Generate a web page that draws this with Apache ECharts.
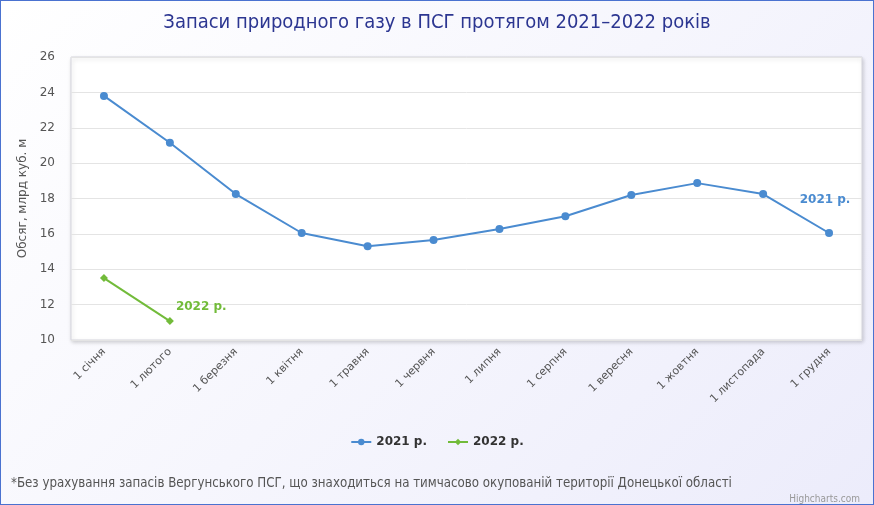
<!DOCTYPE html>
<html><head><meta charset="utf-8">
<script src="https://cdn.jsdelivr.net/npm/echarts@6/dist/echarts.min.js"></script>
<style>
html,body{margin:0;padding:0;}
#wrap{position:absolute;left:0;top:0;width:872px;height:503px;border:1px solid #4a72d0;background:linear-gradient(135deg,#ffffff 0%,#f6f6fd 50%,#ececfb 100%);}
#chart{width:872px;height:503px;}
</style></head><body>
<div id="wrap"><div id="chart"></div></div>
<script>
const categories = ['1 січня','1 лютого','1 березня','1 квітня','1 травня','1 червня','1 липня','1 серпня','1 вересня','1 жовтня','1 листопада','1 грудня'];
const values2021 = [23.8, 21.15, 18.25, 16.05, 15.3, 15.65, 16.27, 17.0, 18.2, 18.87, 18.25, 16.05];
const values2022 = [13.5, 11.07];
const yTicks = [10, 12, 14, 16, 18, 20, 22, 24, 26];

const chart = echarts.init(document.getElementById('chart'));
const blue = '#4a8bd0', green = '#72bb3a';
function withEndLabel(arr, labelCfg){
  return arr.map((v,i)=> i===arr.length-1 ? {value:v, label:labelCfg} : v);
}
chart.setOption({
  animation:false,
  title:[{text:'Запаси природного газу в ПСГ протягом 2021–2022 років',left:'center',top:7,
    textStyle:{fontFamily:'DejaVu Sans Condensed',fontSize:20,fontWeight:'normal',color:'#2c3691'}},
   {text:'*Без урахування запасів Вергунського ПСГ, що знаходиться на тимчасово окупованій території Донецької області',left:5,top:471,
    textStyle:{fontFamily:'DejaVu Sans Condensed',fontSize:13.2,fontWeight:'normal',color:'#555'}},
   {text:'Highcharts.com',right:8,top:488,textStyle:{fontFamily:'DejaVu Sans Condensed',fontSize:10,fontWeight:'normal',color:'#999'}}],
  grid:{left:70,right:11,top:56,bottom:164,show:true,backgroundColor:'#ffffff',borderColor:'#d5d5dd',borderWidth:1,
    shadowColor:'rgba(0,0,0,0.18)',shadowBlur:4,shadowOffsetX:1,shadowOffsetY:2},
  legend:{top:430,left:'center',itemGap:20,itemWidth:20,itemHeight:8,
    textStyle:{fontFamily:'DejaVu Sans',fontSize:12,fontWeight:'bold',color:'#333'},
    data:['2021 р.','2022 р.']},
  xAxis:{type:'category',data:categories,boundaryGap:true,
    axisLine:{show:false},axisTick:{show:false},
    axisLabel:{interval:0,rotate:45,margin:10,color:'#555',fontFamily:'DejaVu Sans',fontSize:11}},
  yAxis:{type:'value',min:yTicks[0],max:yTicks[yTicks.length-1],interval:2,
    name:'Обсяг, млрд куб. м',nameLocation:'middle',nameGap:41,nameRotate:90,
    nameTextStyle:{fontFamily:'DejaVu Sans',fontSize:12,color:'#555'},
    axisLabel:{color:'#555',fontFamily:'DejaVu Sans',fontSize:12,margin:16},
    splitLine:{lineStyle:{color:'#e4e4e4'}},axisLine:{show:false},axisTick:{show:false}},
  series:[
    {name:'2021 р.',type:'line',color:blue,symbol:'circle',symbolSize:8,lineStyle:{width:2},
     data:withEndLabel(values2021,{show:true,formatter:'2021 р.',position:'top',offset:[-4,-18],
       fontFamily:'DejaVu Sans',fontSize:12,fontWeight:'bold',color:blue})},
    {name:'2022 р.',type:'line',color:green,symbol:'diamond',symbolSize:8,lineStyle:{width:2},
     data:withEndLabel(values2022,{show:true,formatter:'2022 р.',position:'right',offset:[-3,-14],
       fontFamily:'DejaVu Sans',fontSize:12,fontWeight:'bold',color:green})}
  ]
});
</script></body></html>
